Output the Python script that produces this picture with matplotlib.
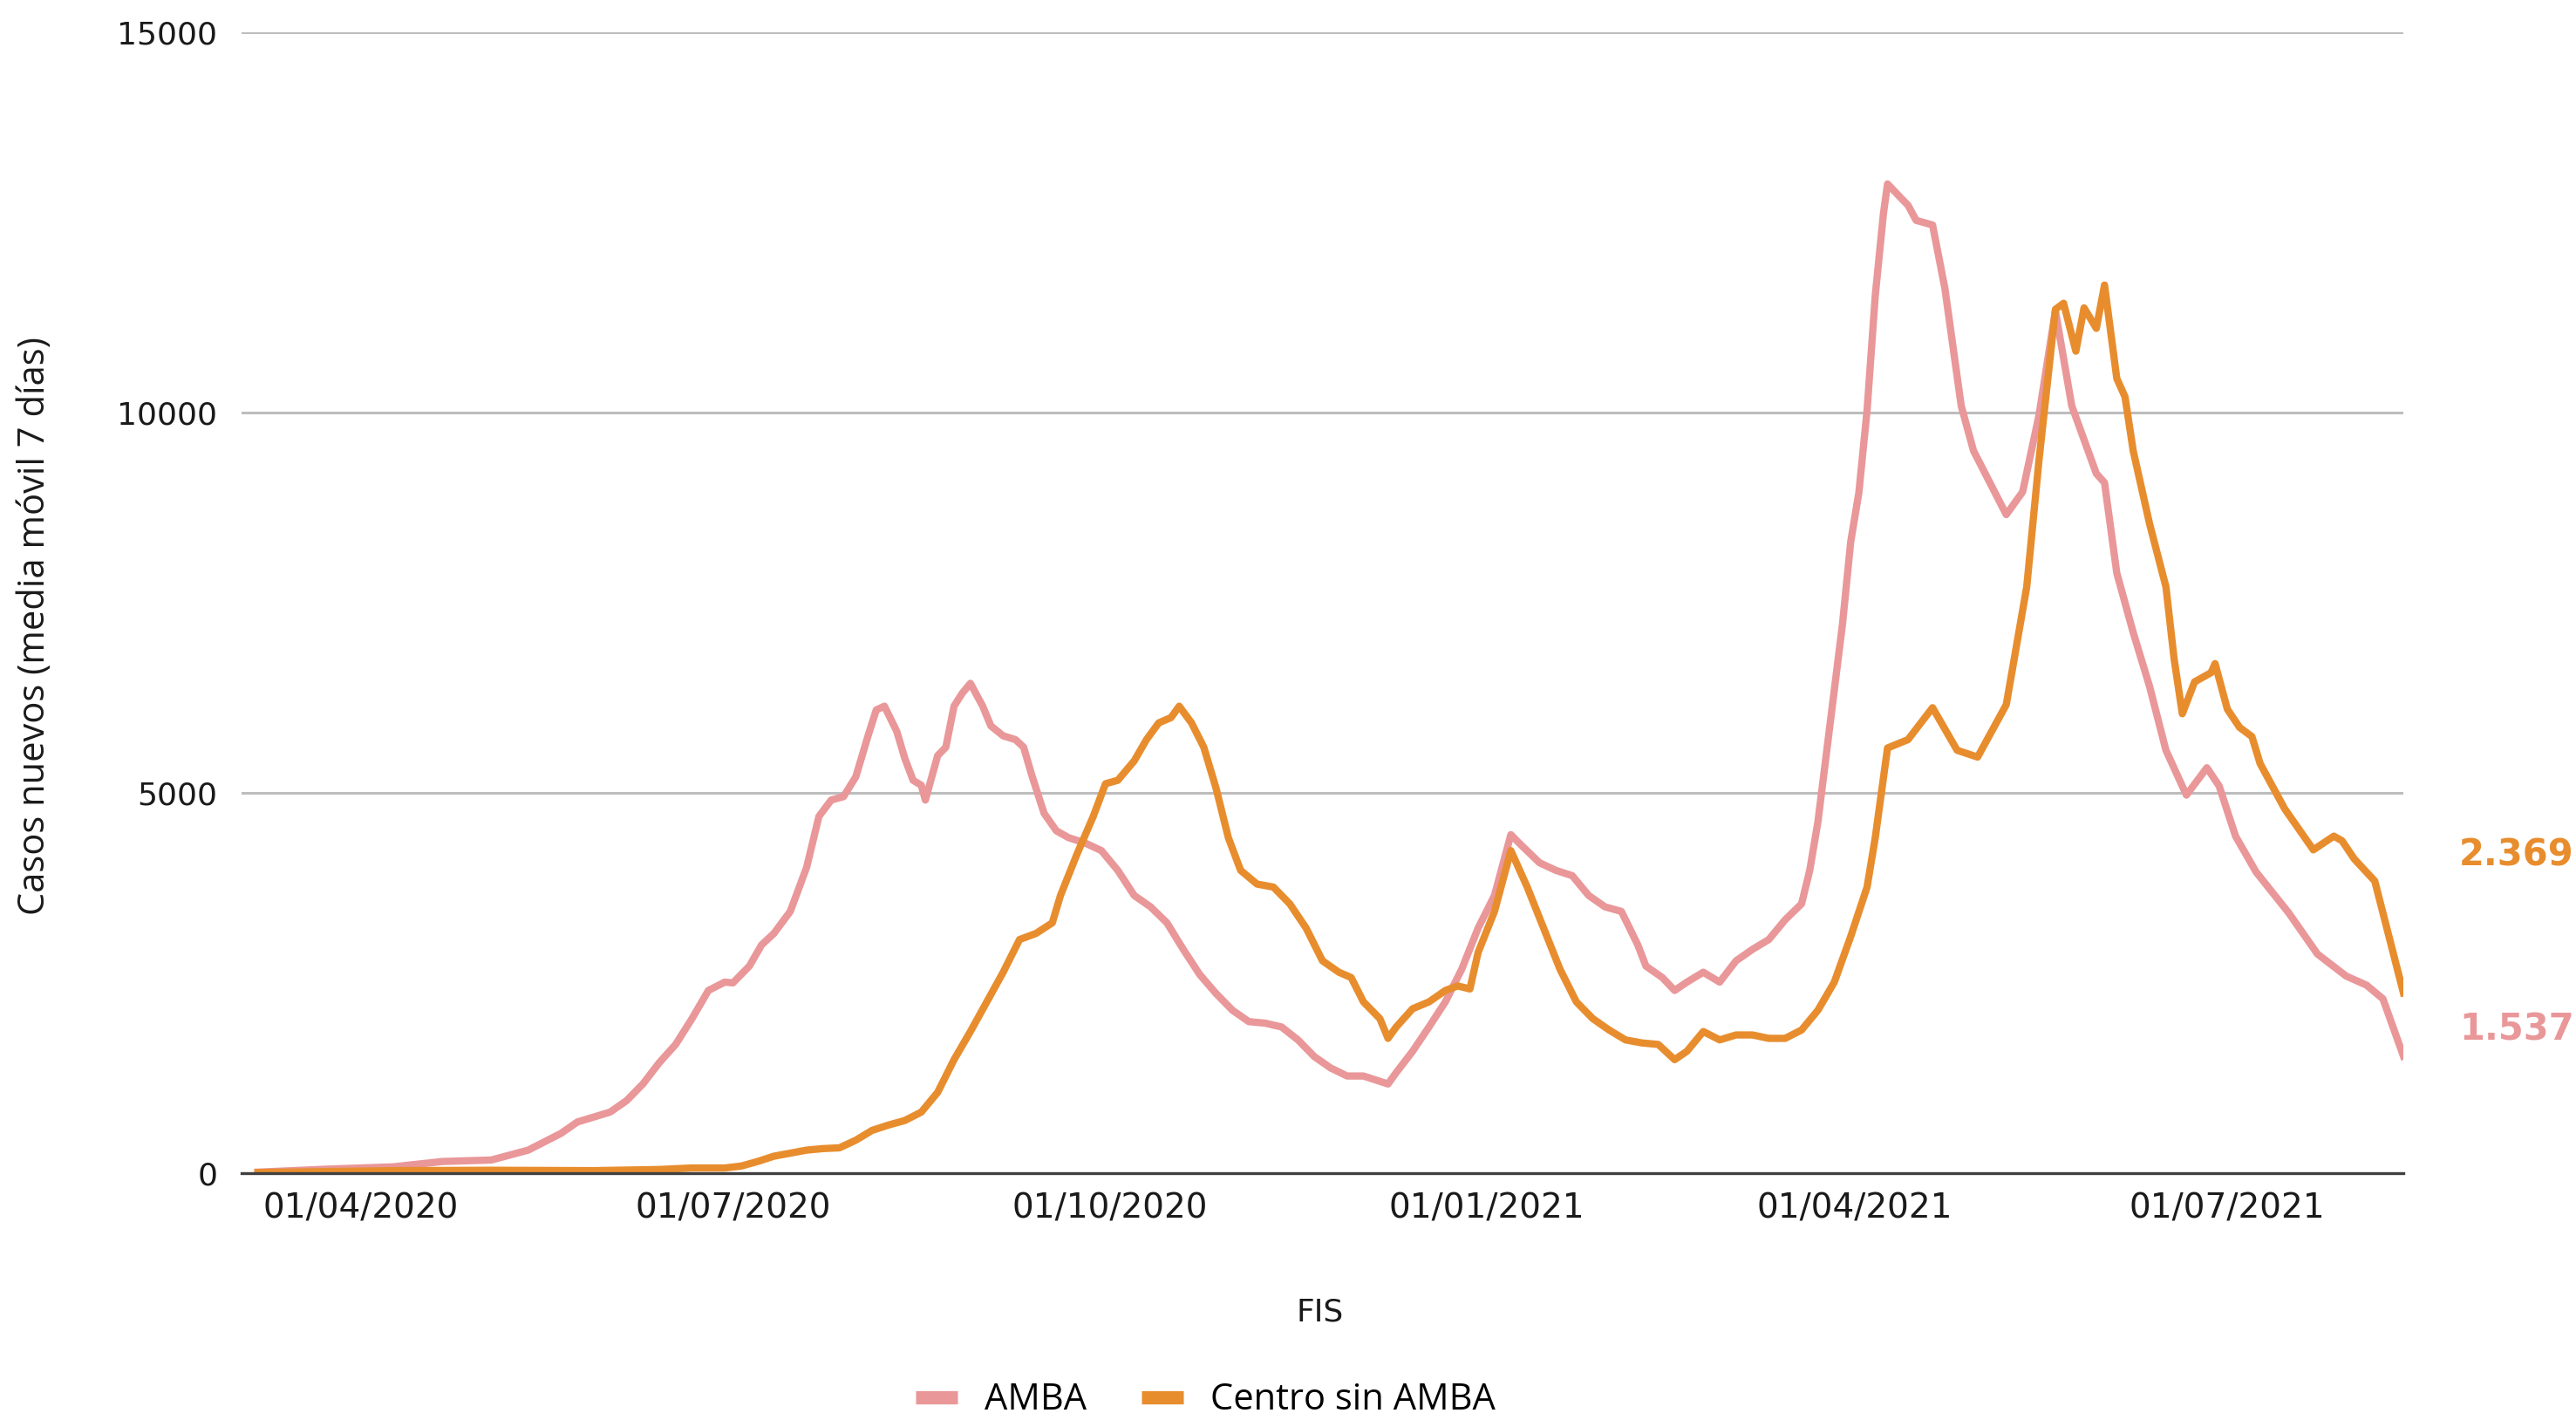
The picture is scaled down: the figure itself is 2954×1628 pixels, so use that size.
import matplotlib
matplotlib.use("Agg")
import matplotlib.pyplot as plt
import matplotlib.dates as mdates
from matplotlib.lines import Line2D
import pandas as pd
from matplotlib import font_manager

# ---------------- data ----------------
amba_dates = ["2020-03-07", "2020-03-24", "2020-04-09", "2020-04-21", "2020-05-03", "2020-05-12",
              "2020-05-20", "2020-05-24", "2020-05-28", "2020-06-01", "2020-06-05", "2020-06-09",
              "2020-06-13", "2020-06-17", "2020-06-21", "2020-06-25", "2020-06-29", "2020-07-01",
              "2020-07-05", "2020-07-08", "2020-07-11", "2020-07-15", "2020-07-19", "2020-07-22",
              "2020-07-25", "2020-07-28", "2020-07-31", "2020-08-03", "2020-08-05", "2020-08-07",
              "2020-08-10", "2020-08-12", "2020-08-14", "2020-08-16", "2020-08-17", "2020-08-20",
              "2020-08-22", "2020-08-24", "2020-08-26", "2020-08-28", "2020-08-31", "2020-09-02",
              "2020-09-05", "2020-09-08", "2020-09-10", "2020-09-12", "2020-09-15", "2020-09-18",
              "2020-09-21", "2020-09-25", "2020-09-29", "2020-10-03", "2020-10-07", "2020-10-11",
              "2020-10-15", "2020-10-19", "2020-10-23", "2020-10-27", "2020-10-31", "2020-11-04",
              "2020-11-08", "2020-11-12", "2020-11-16", "2020-11-20", "2020-11-24", "2020-11-28",
              "2020-12-02", "2020-12-08", "2020-12-10", "2020-12-14", "2020-12-18", "2020-12-22",
              "2020-12-26", "2020-12-30", "2021-01-03", "2021-01-07", "2021-01-09", "2021-01-14",
              "2021-01-18", "2021-01-22", "2021-01-26", "2021-01-30", "2021-02-03", "2021-02-07",
              "2021-02-09", "2021-02-13", "2021-02-16", "2021-02-19", "2021-02-23", "2021-02-27",
              "2021-03-03", "2021-03-07", "2021-03-11", "2021-03-15", "2021-03-19", "2021-03-21",
              "2021-03-23", "2021-03-25", "2021-03-27", "2021-03-29", "2021-03-31", "2021-04-02",
              "2021-04-04", "2021-04-06", "2021-04-08", "2021-04-09", "2021-04-12", "2021-04-14",
              "2021-04-16", "2021-04-20", "2021-04-23", "2021-04-27", "2021-04-30", "2021-05-08",
              "2021-05-12", "2021-05-16", "2021-05-20", "2021-05-24", "2021-05-30", "2021-06-01",
              "2021-06-04", "2021-06-08", "2021-06-12", "2021-06-16", "2021-06-21", "2021-06-26",
              "2021-06-29", "2021-07-03", "2021-07-08", "2021-07-16", "2021-07-23", "2021-07-30",
              "2021-08-04", "2021-08-08", "2021-08-13"]
amba_values = [10, 50, 80, 150, 170, 300,
               520, 670, 735, 800, 950, 1170,
               1450, 1690, 2030, 2400, 2510, 2500,
               2720, 3000, 3150, 3440, 4020, 4690,
               4905, 4950, 5210, 5750, 6090, 6140,
               5810, 5450, 5165, 5100, 4905, 5490,
               5600, 6140, 6310, 6440, 6140, 5880,
               5750, 5700, 5600, 5230, 4730, 4500,
               4410, 4340, 4240, 3980, 3650, 3500,
               3290, 2940, 2610, 2360, 2140, 1990,
               1970, 1920, 1750, 1530, 1380, 1275,
               1275, 1170, 1320, 1600, 1920, 2250,
               2680, 3220, 3650, 4450, 4340, 4080,
               3980, 3910, 3650, 3500, 3440, 3000,
               2720, 2570, 2400, 2510, 2640, 2510,
               2790, 2940, 3070, 3330, 3540, 3980,
               4620, 5490, 6350, 7220, 8300, 8950,
               10030, 11540, 12620, 13010, 12840, 12730,
               12530, 12470, 11640, 10090, 9500, 8660,
               8960, 9970, 11340, 10090, 9200, 9080,
               7890, 7110, 6400, 5560, 4970, 5330,
               5090, 4430, 3960, 3420, 2880, 2590,
               2470, 2290, 1537]

centro_dates = ["2020-03-07", "2020-04-09", "2020-05-03", "2020-05-28", "2020-06-13", "2020-06-21",
                "2020-06-29", "2020-07-03", "2020-07-07", "2020-07-11", "2020-07-15", "2020-07-19",
                "2020-07-23", "2020-07-27", "2020-07-31", "2020-08-04", "2020-08-08", "2020-08-12",
                "2020-08-16", "2020-08-20", "2020-08-24", "2020-08-28", "2020-09-01", "2020-09-05",
                "2020-09-09", "2020-09-13", "2020-09-17", "2020-09-19", "2020-09-23", "2020-09-27",
                "2020-09-30", "2020-10-03", "2020-10-07", "2020-10-10", "2020-10-13", "2020-10-16",
                "2020-10-18", "2020-10-21", "2020-10-24", "2020-10-27", "2020-10-30", "2020-11-02",
                "2020-11-06", "2020-11-10", "2020-11-14", "2020-11-18", "2020-11-22", "2020-11-26",
                "2020-11-29", "2020-12-02", "2020-12-06", "2020-12-08", "2020-12-10", "2020-12-14",
                "2020-12-18", "2020-12-22", "2020-12-25", "2020-12-28", "2020-12-30", "2021-01-03",
                "2021-01-07", "2021-01-11", "2021-01-15", "2021-01-19", "2021-01-23", "2021-01-27",
                "2021-01-31", "2021-02-04", "2021-02-08", "2021-02-12", "2021-02-16", "2021-02-19",
                "2021-02-23", "2021-02-27", "2021-03-03", "2021-03-07", "2021-03-11", "2021-03-15",
                "2021-03-19", "2021-03-23", "2021-03-27", "2021-03-31", "2021-04-04", "2021-04-06",
                "2021-04-09", "2021-04-14", "2021-04-20", "2021-04-26", "2021-05-01", "2021-05-08",
                "2021-05-13", "2021-05-16", "2021-05-20", "2021-05-22", "2021-05-25", "2021-05-27",
                "2021-05-30", "2021-06-01", "2021-06-04", "2021-06-06", "2021-06-08", "2021-06-12",
                "2021-06-16", "2021-06-18", "2021-06-20", "2021-06-23", "2021-06-27", "2021-06-28",
                "2021-07-01", "2021-07-04", "2021-07-07", "2021-07-09", "2021-07-15", "2021-07-22",
                "2021-07-27", "2021-07-29", "2021-08-01", "2021-08-06", "2021-08-08", "2021-08-13"]
centro_values = [5, 30, 35, 30, 45, 65,
                 65, 90, 150, 220, 260, 300,
                 320, 330, 430, 560, 630, 690,
                 800, 1060, 1490, 1860, 2250, 2640,
                 3070, 3150, 3290, 3650, 4190, 4690,
                 5120, 5165, 5420, 5700, 5920, 5990,
                 6140, 5920, 5600, 5060, 4410, 3980,
                 3800, 3760, 3540, 3220, 2790, 2640,
                 2570, 2250, 2030, 1770, 1920, 2160,
                 2250, 2400, 2460, 2420, 2900, 3440,
                 4240, 3760, 3220, 2680, 2250, 2030,
                 1880, 1750, 1710, 1690, 1490, 1600,
                 1860, 1750, 1815, 1815, 1770, 1770,
                 1880, 2140, 2510, 3110, 3760, 4410,
                 5590, 5700, 6120, 5560, 5470, 6160,
                 7710, 9380, 11360, 11440, 10810, 11380,
                 11110, 11680, 10450, 10210, 9500, 8540,
                 7710, 6760, 6040, 6460, 6580, 6700,
                 6100, 5860, 5740, 5385, 4790, 4250,
                 4430, 4370, 4130, 3840, 3420, 2369]

series_names = ["AMBA", "Centro sin AMBA"]
x_tick_dates = ["2020-04-01", "2020-07-01", "2020-10-01", "2021-01-01", "2021-04-01", "2021-07-01"]
y_ticks = [0, 5000, 10000, 15000]
y_label = "Casos nuevos (media móvil 7 días)"
x_label = "FIS"

# ---------------- style ----------------
pink = "#E99799"
orange = "#E88D2E"

installed = {f.name for f in font_manager.fontManager.ttflist}
narrow = "Liberation Sans Narrow" if "Liberation Sans Narrow" in installed else "Open Sans"

fig = plt.figure(figsize=(29.54, 16.28), dpi=100)
ax = fig.add_axes([0.0938, 0.174, 0.8392, 0.803])

ad = pd.to_datetime(amba_dates)
cd = pd.to_datetime(centro_dates)
ax.plot(ad, amba_values, color=pink, lw=6, solid_joinstyle="round", zorder=3)
ax.plot(cd, centro_values, color=orange, lw=6, solid_joinstyle="round", zorder=4)

ax.set_xlim(pd.Timestamp("2020-03-03"), cd[-1])
ax.set_ylim(0, 15000)
ax.set_yticks(y_ticks)
ax.set_yticklabels([str(v) for v in y_ticks])
ax.set_xticks(pd.to_datetime(x_tick_dates))
ax.xaxis.set_major_formatter(mdates.DateFormatter("%d/%m/%Y"))

for s in ["top", "right", "left"]:
    ax.spines[s].set_visible(False)
ax.spines["bottom"].set_color("#404040")
ax.spines["bottom"].set_linewidth(2.4)
ax.spines["bottom"].set_zorder(5)

ax.yaxis.grid(True, color="#BDBDBD", lw=2.2)
ax.set_axisbelow(True)
ax.tick_params(axis="both", length=0, colors="#1a1a1a")
ax.tick_params(axis="y", pad=20, labelsize=26)
ax.tick_params(axis="x", pad=16, labelsize=28)
for lab in ax.get_xticklabels() + ax.get_yticklabels():
    lab.set_family("DejaVu Sans")

ax.set_ylabel(y_label, fontsize=30, family=narrow, color="#1a1a1a")
ax.yaxis.set_label_coords(-0.087, 0.48)
ax.set_xlabel(x_label, fontsize=26, family="DejaVu Sans", color="#1a1a1a")
ax.xaxis.set_label_coords(0.499, -0.109)

# end value labels
def fmt(v):
    return f"{v:,.0f}".replace(",", ".")

ax.annotate(fmt(centro_values[-1]), xy=(cd[-1], centro_values[-1]), xytext=(64, 158),
            textcoords="offset pixels", color=orange, fontsize=30, fontweight="bold",
            family="DejaVu Sans", ha="left", va="center", annotation_clip=False)
ax.annotate(fmt(amba_values[-1]), xy=(ad[-1], amba_values[-1]), xytext=(64, 30),
            textcoords="offset pixels", color=pink, fontsize=30, fontweight="bold",
            family="DejaVu Sans", ha="left", va="center", annotation_clip=False)

handles = [Line2D([0], [0], color=pink, lw=11, solid_capstyle="butt"),
           Line2D([0], [0], color=orange, lw=11, solid_capstyle="butt")]
fig.legend(handles, series_names, loc="center", bbox_to_anchor=(0.468, 0.014), ncol=2,
           frameon=False, prop={"family": narrow, "size": 30}, handlelength=1.15,
           columnspacing=1.5, handletextpad=0.75)

fig.savefig("out.png", dpi=100)
